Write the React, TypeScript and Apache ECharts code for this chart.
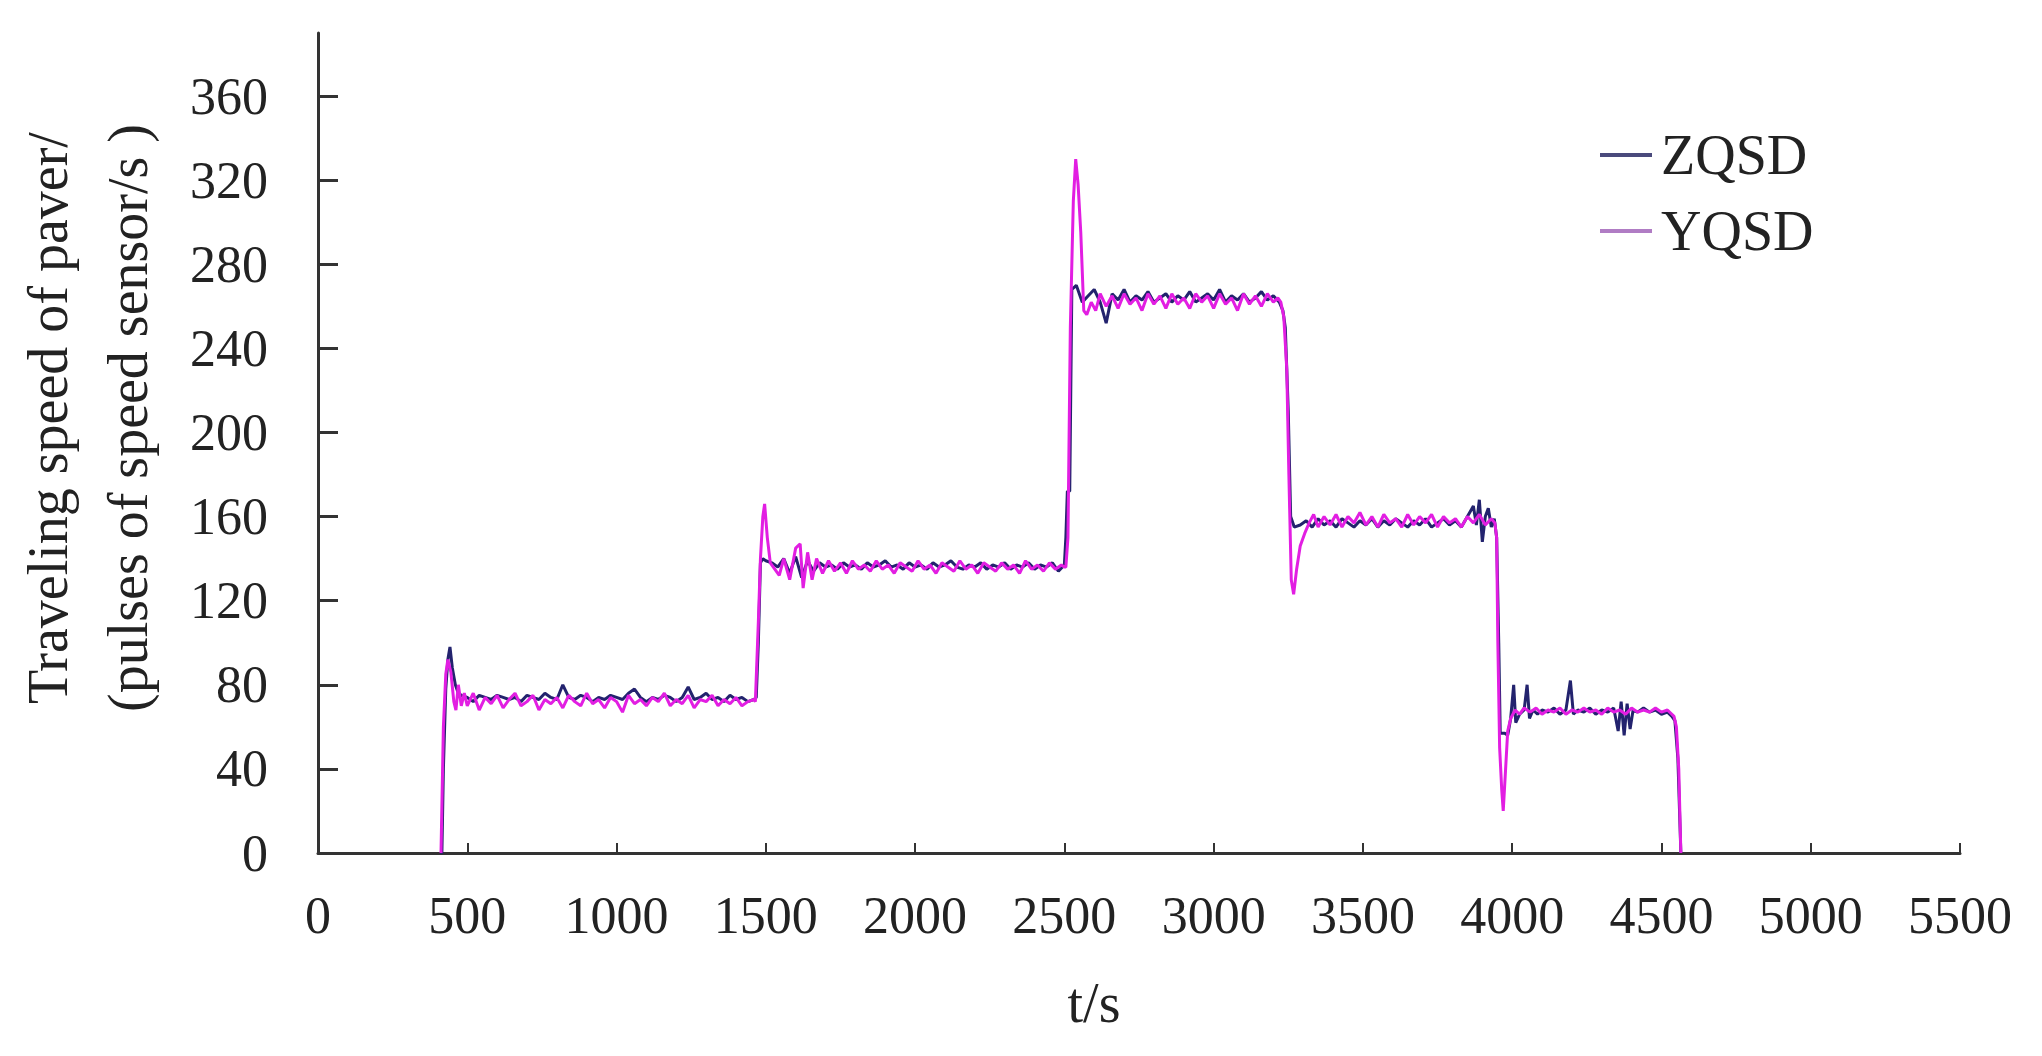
import React, { useEffect, useRef } from "react";
import * as echarts from "echarts";

// ---- data ----
const seriesNames = ["ZQSD", "YQSD"];
const yTickValues = [0, 40, 80, 120, 160, 200, 240, 280, 320, 360];
const xTitle = "t/s";
const yTitleLines = ["Traveling speed of paver/", "(pulses of speed sensor/s )"];

const zqsd: [number, number][] = [
  [410, 0], [415, 0], [420, 40], [428, 78], [435, 92], [442, 98], [450, 88], [460, 80], [470, 76],
  [480, 75], [500, 74], [520, 72], [540, 75], [560, 74], [580, 73], [600, 75], [620, 74], [640, 73], [660, 74],
  [680, 72], [700, 75], [720, 74], [740, 73], [760, 76], [780, 74], [800, 73], [820, 80], [840, 74], [860, 73],
  [880, 75], [900, 74], [920, 72], [940, 74], [960, 73], [980, 75], [1000, 74], [1020, 73], [1040, 76], [1060, 78],
  [1080, 74], [1100, 72], [1120, 74], [1140, 73], [1160, 75], [1180, 74], [1200, 72], [1220, 74], [1240, 79], [1260, 73],
  [1280, 74], [1300, 76], [1320, 73], [1340, 74], [1360, 72], [1380, 75], [1400, 73], [1420, 74], [1440, 72], [1460, 73],
  [1468, 74], [1475, 100], [1482, 138], [1490, 140],
  [1500, 139], [1520, 138], [1540, 136], [1560, 140], [1580, 133], [1600, 141], [1620, 131], [1640, 139], [1660, 134],
  [1680, 138], [1700, 136], [1720, 137], [1740, 135], [1760, 138], [1780, 136], [1800, 137], [1820, 135], [1840, 138],
  [1860, 136], [1880, 137], [1900, 139], [1920, 136], [1940, 137], [1960, 135], [1980, 138], [2000, 136], [2020, 137],
  [2040, 135], [2060, 138], [2080, 136], [2100, 137], [2120, 139], [2140, 136], [2160, 135], [2180, 137], [2200, 136],
  [2220, 138], [2240, 135], [2260, 137], [2280, 136], [2300, 138], [2320, 135], [2340, 137], [2360, 136], [2380, 138],
  [2400, 135], [2420, 137], [2440, 136], [2460, 138], [2480, 134], [2500, 137],
  [2505, 150], [2510, 172], [2518, 172], [2525, 268], [2540, 270],
  [2560, 262], [2580, 265], [2600, 268], [2620, 262], [2640, 252], [2660, 266], [2680, 263], [2700, 268], [2720, 262],
  [2740, 265], [2760, 263], [2780, 267], [2800, 262], [2820, 264], [2840, 266], [2860, 262], [2880, 265], [2900, 263],
  [2920, 267], [2940, 262], [2960, 264], [2980, 266], [3000, 263], [3020, 268], [3040, 262], [3060, 265], [3080, 263],
  [3100, 266], [3120, 262], [3140, 264], [3160, 267], [3180, 263], [3200, 265], [3220, 262],
  [3232, 258], [3240, 250], [3250, 210], [3258, 160], [3270, 155],
  [3290, 156], [3310, 158], [3330, 155], [3350, 159], [3370, 156], [3390, 158], [3410, 155], [3430, 159], [3450, 157],
  [3470, 155], [3490, 158], [3510, 156], [3530, 159], [3550, 155], [3570, 158], [3590, 156], [3610, 159], [3630, 157],
  [3650, 155], [3670, 158], [3690, 156], [3710, 159], [3730, 155], [3750, 157], [3770, 159], [3790, 156], [3810, 158],
  [3830, 155], [3850, 160], [3870, 165], [3880, 156], [3890, 168], [3900, 148], [3910, 160], [3920, 164], [3930, 155],
  [3940, 159],
  [3948, 150], [3955, 100], [3960, 57], [3975, 57], [3985, 56],
  [3995, 64], [4005, 80], [4012, 62], [4025, 66], [4040, 68], [4050, 80], [4058, 64], [4070, 68], [4085, 66], [4100, 68],
  [4120, 67], [4140, 69], [4160, 66], [4180, 68], [4195, 82], [4205, 66], [4220, 68], [4240, 67], [4260, 69], [4280, 66],
  [4300, 68], [4320, 67], [4340, 69], [4355, 58], [4365, 72], [4375, 56], [4385, 71], [4395, 59], [4405, 68], [4420, 67],
  [4440, 69], [4460, 67], [4480, 68], [4500, 66], [4520, 67], [4535, 65],
  [4545, 63], [4555, 45], [4565, 0],
];

const yqsd: [number, number][] = [
  [412, 0], [420, 60], [428, 85], [435, 92], [445, 86], [455, 72], [462, 68], [470, 80], [480, 70], [490, 76],
  [500, 70], [520, 76], [540, 68], [560, 74], [580, 71], [600, 75], [620, 69], [640, 73], [660, 76], [680, 70],
  [700, 72], [720, 75], [740, 68], [760, 73], [780, 71], [800, 74], [820, 69], [840, 75], [860, 72], [880, 70],
  [900, 76], [920, 71], [940, 73], [960, 69], [980, 74], [1000, 72], [1020, 67], [1040, 75], [1060, 71], [1080, 73],
  [1100, 70], [1120, 74], [1140, 72], [1160, 76], [1180, 70], [1200, 73], [1220, 71], [1240, 75], [1260, 69], [1280, 73],
  [1300, 72], [1320, 75], [1340, 70], [1360, 73], [1380, 71], [1400, 74], [1420, 70], [1440, 72], [1460, 73],
  [1465, 72], [1475, 110], [1482, 140], [1490, 160], [1496, 166], [1505, 150], [1515, 138],
  [1530, 135], [1545, 132], [1560, 140], [1580, 130], [1600, 145], [1615, 147], [1625, 126], [1640, 143], [1655, 130],
  [1670, 140], [1690, 133], [1710, 139], [1730, 134], [1750, 138], [1770, 133], [1790, 139], [1810, 135], [1830, 137],
  [1850, 134], [1870, 139], [1890, 135], [1910, 137], [1930, 133], [1950, 138], [1970, 136], [1990, 134], [2010, 139],
  [2030, 135], [2050, 137], [2070, 133], [2090, 138], [2110, 136], [2130, 134], [2150, 139], [2170, 135], [2190, 137],
  [2210, 133], [2230, 138], [2250, 136], [2270, 134], [2290, 138], [2310, 135], [2330, 137], [2350, 133], [2370, 139],
  [2390, 135], [2410, 137], [2430, 134], [2450, 138], [2470, 135], [2490, 137], [2500, 136],
  [2505, 136], [2512, 150], [2520, 250], [2530, 310], [2538, 330], [2546, 318], [2555, 295], [2565, 258], [2575, 256],
  [2590, 262], [2605, 258], [2620, 266], [2640, 260], [2660, 265], [2680, 259], [2700, 266], [2720, 261], [2740, 264],
  [2760, 258], [2780, 266], [2800, 261], [2820, 265], [2840, 259], [2860, 266], [2880, 261], [2900, 264], [2920, 259],
  [2940, 266], [2960, 262], [2980, 265], [3000, 259], [3020, 266], [3040, 261], [3060, 264], [3080, 258], [3100, 266],
  [3120, 261], [3140, 265], [3160, 260], [3180, 266], [3200, 262], [3215, 264],
  [3225, 262], [3235, 255], [3245, 230], [3252, 180], [3260, 130], [3268, 123], [3278, 135], [3290, 146], [3305, 152],
  [3320, 157], [3335, 161], [3350, 155], [3370, 160], [3390, 156], [3410, 161], [3430, 155], [3450, 160], [3470, 157],
  [3490, 162], [3510, 156], [3530, 160], [3550, 155], [3570, 161], [3590, 157], [3610, 159], [3630, 155], [3650, 161],
  [3670, 156], [3690, 160], [3710, 157], [3730, 161], [3750, 155], [3770, 160], [3790, 157], [3810, 159], [3830, 155],
  [3850, 160], [3870, 157], [3890, 161], [3910, 156], [3930, 159], [3942, 157],
  [3948, 150], [3952, 100], [3958, 50], [3965, 30], [3970, 20], [3978, 40], [3985, 58],
  [3995, 64], [4010, 68], [4025, 66], [4040, 69], [4060, 67], [4080, 69], [4100, 66], [4120, 68], [4140, 67], [4160, 69],
  [4180, 66], [4200, 68], [4220, 67], [4240, 69], [4260, 67], [4280, 68], [4300, 66], [4320, 69], [4340, 67], [4360, 68],
  [4380, 66], [4400, 69], [4420, 67], [4440, 68], [4460, 67], [4480, 69], [4500, 67], [4520, 68], [4535, 66],
  [4542, 65], [4550, 60], [4558, 40], [4565, 0],
];

const FONT = "'Liberation Serif', 'Times New Roman', serif";

export default function App() {
  const ref = useRef<HTMLDivElement>(null);

  useEffect(() => {
    if (!ref.current) return;
    const chart = echarts.init(ref.current, undefined, { renderer: "svg" });
    chart.setOption({
      animation: false,
      backgroundColor: "#ffffff",
      grid: { left: 318, right: 82, top: 33, bottom: 203, containLabel: false },
      legend: {
        orient: "vertical",
        left: 1595,
        top: 122,
        itemWidth: 52,
        itemHeight: 4,
        itemGap: 20,
        icon: "rect",
        textStyle: { fontSize: 56, fontFamily: FONT, color: "#222", padding: [0, 0, 0, 4] },
        data: [
          { name: seriesNames[0], itemStyle: { color: "#4a4a7c" } },
          { name: seriesNames[1], itemStyle: { color: "#b07cc4" } },
        ],
      },
      xAxis: {
        type: "value",
        min: 0,
        max: 5500,
        interval: 500,
        axisLine: { show: true, lineStyle: { color: "#333", width: 3 } },
        axisTick: { show: true, inside: true, length: 10, lineStyle: { color: "#333", width: 2 } },
        axisLabel: {
          fontSize: 52,
          fontFamily: FONT,
          color: "#222",
          margin: 36,
          formatter: (v: number) => String(v),
        },
        splitLine: { show: false },
      },
      yAxis: {
        type: "value",
        min: 0,
        max: 390,
        interval: 40,
        axisLine: { show: true, lineStyle: { color: "#333", width: 3 } },
        axisTick: {
          show: true,
          inside: true,
          length: 20,
          lineStyle: { color: "#333", width: 3 },
          customValues: yTickValues,
        },
        axisLabel: {
          fontSize: 52,
          fontFamily: FONT,
          color: "#222",
          margin: 50,
          customValues: yTickValues,
          formatter: (v: number) => (yTickValues.indexOf(v) >= 0 ? String(v) : ""),
        },
        splitLine: { show: false },
      },
      graphic: [
        {
          type: "text",
          x: 88,
          y: 418,
          rotation: Math.PI / 2,
          style: {
            text: yTitleLines.join("\n"),
            font: `56px ${FONT}`,
            fill: "#222",
            align: "center",
            verticalAlign: "middle",
            lineHeight: 80,
          },
        },
        {
          type: "text",
          x: 1094,
          y: 1003,
          style: {
            text: xTitle,
            font: `56px ${FONT}`,
            fill: "#222",
            align: "center",
            verticalAlign: "middle",
          },
        },
      ],
      series: [
        {
          name: seriesNames[0],
          type: "line",
          data: zqsd,
          symbol: "none",
          lineStyle: { color: "#23236e", width: 3 },
          itemStyle: { color: "#23236e" },
          z: 2,
        },
        {
          name: seriesNames[1],
          type: "line",
          data: yqsd,
          symbol: "none",
          lineStyle: { color: "#e21ee2", width: 3 },
          itemStyle: { color: "#e21ee2" },
          z: 3,
        },
      ],
    });
    return () => chart.dispose();
  }, []);

  return (
    <div
      ref={ref}
      style={{ position: "absolute", left: 0, top: 0, width: 2042, height: 1056, background: "#fff" }}
    />
  );
}
